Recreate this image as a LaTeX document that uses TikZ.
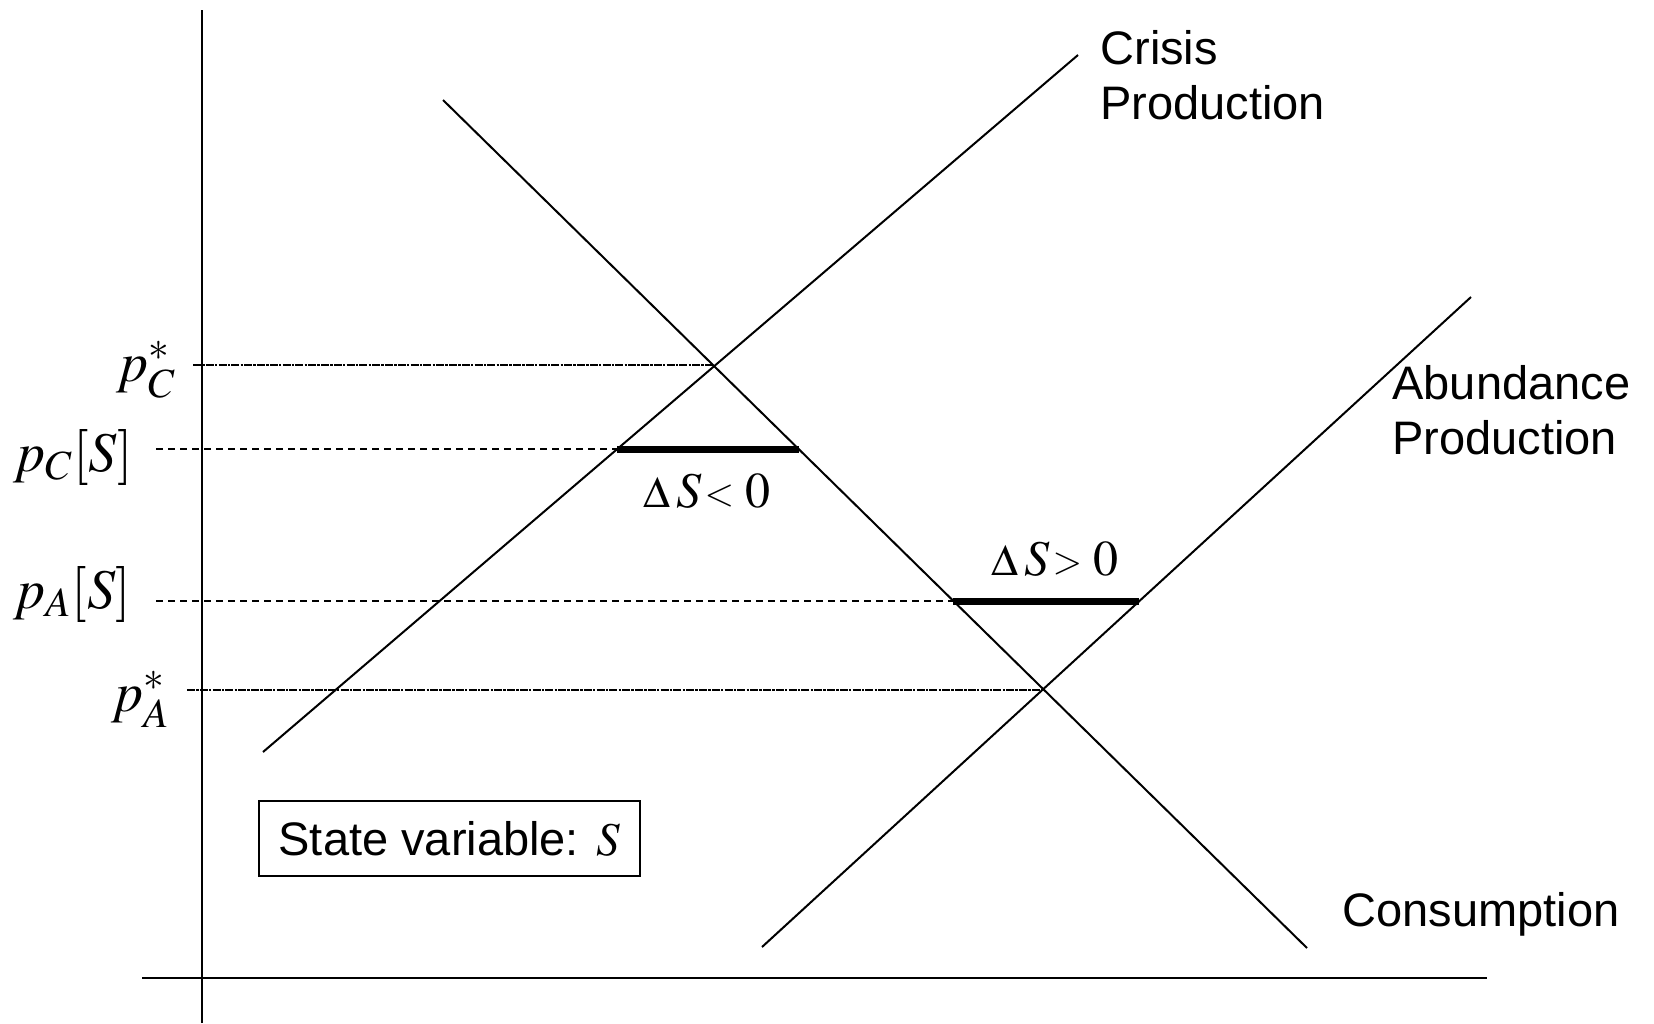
\documentclass[tikz,border=0pt]{standalone}
\usepackage{mathptmx}
\usepackage[no-math]{fontspec}
\setmainfont{Liberation Serif}
\setsansfont{Liberation Sans}
\usetikzlibrary{calc}
\newcommand\gapsign[1]{%
  \mbox{\fontsize{22}{24}\selectfont$\Delta$}\mkern2mu S\mkern1mu
  \raisebox{1pt}{\fontsize{19}{20}\selectfont$#1$}\mkern4mu 0}

\begin{document}
\begin{tikzpicture}[x=0.5pt,y=-0.5pt,
  axis/.style={line width=1pt},
  curve/.style={line width=1pt},
  guide/.style={line width=0.75pt,dash pattern=on 3.5pt off 2.5pt},
  eqguide/.style={line width=0.75pt,dash pattern=on 4pt off 0.6pt on 1.2pt off 0.6pt},
  gapbar/.style={line width=3.5pt},
  curvelabel/.style={font=\fontsize{23.5}{27.5}\sffamily,align=left,anchor=north west,inner sep=0pt},
  pricelabel/.style={font=\fontsize{28}{32}\selectfont,anchor=base west,inner sep=0pt},
  gaplabel/.style={font=\fontsize{25}{30}\selectfont,anchor=base,inner sep=0pt},
  statebox/.style={draw,line width=1pt,font=\fontsize{23.5}{29.5}\sffamily,minimum width=190.5pt,minimum height=37.5pt,inner sep=0pt}]
\useasboundingbox (0,0) rectangle (1654,1023);

\coordinate (ytop) at (202,10);
\coordinate (ybot) at (202,1023);
\coordinate (xleft) at (142,978);
\coordinate (xright) at (1487,978);
\draw[axis] (ybot) -- (ytop);
\draw[axis] (xleft) -- (xright);

\coordinate (crisis0) at (263,752);
\coordinate (crisis1) at (1078,55);
\coordinate (cons0) at (443,100);
\coordinate (cons1) at (1307,948);
\coordinate (abund0) at (762,947);
\coordinate (abund1) at (1471,297);
\draw[curve] (crisis0) -- (crisis1);
\draw[curve] (cons0) -- (cons1);
\draw[curve] (abund0) -- (abund1);

\coordinate (eqC) at (713,365);
\coordinate (eqA) at (1043,690);
\coordinate (gapC0) at (617,449);
\coordinate (gapC1) at (799,449);
\coordinate (gapA0) at (953,601);
\coordinate (gapA1) at (1139,601);

\coordinate (pCstarTick) at (193,365);
\coordinate (pCTick) at (156,449);
\coordinate (pATick) at (156,601);
\coordinate (pAstarTick) at (187,690);
\draw[eqguide] (pCstarTick) -- (eqC);
\draw[guide] (pCTick) -- (gapC0);
\draw[guide] (pATick) -- (gapA0);
\draw[eqguide] (pAstarTick) -- (eqA);

\draw[gapbar] (gapC0) -- (gapC1);
\draw[gapbar] (gapA0) -- (gapA1);

\node[pricelabel] (pCstar) at (116,381) {$p^*_C$};
\node[pricelabel] (pC) at (13,471) {$p_C[S]$};
\node[pricelabel] (pA) at (13,608) {$p_A[S]$};
\node[pricelabel] (pAstar) at (111,711) {$p^*_A$};

\node[gaplabel] (dSneg) at (707,507) {$\gapsign{<}$};
\node[gaplabel] (dSpos) at (1055,575) {$\gapsign{>}$};

\node[curvelabel] (crisislbl) at (1100,30) {Crisis\\Production};
\node[curvelabel] (abundlbl) at (1392,365) {Abundance\\Production};
\node[curvelabel] (conslbl) at (1342,892) {Consumption};

\node[statebox] (state) at (449.5,838.5) {State variable: $S$};
\end{tikzpicture}
\end{document}
